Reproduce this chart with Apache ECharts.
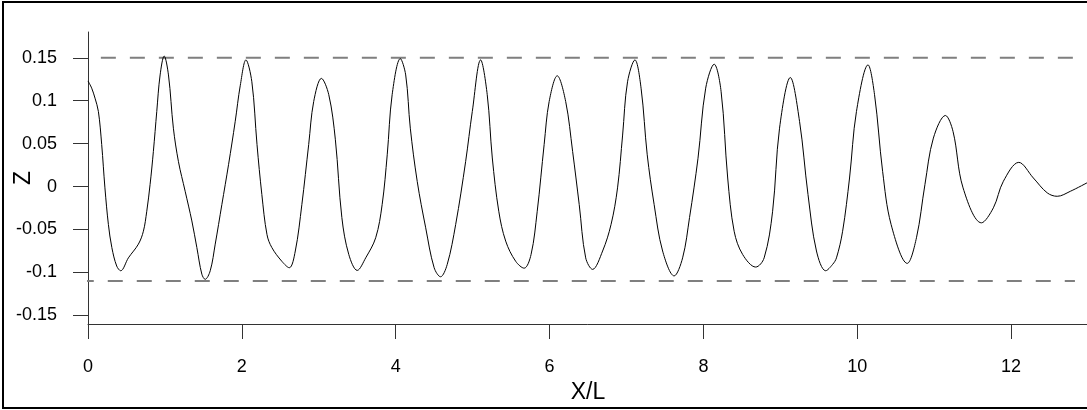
<!DOCTYPE html>
<html>
<head>
    <meta charset="utf-8">
    <title></title>
    <script src="https://cdn.jsdelivr.net/npm/echarts@6.0.0/dist/echarts.min.js"></script>
</head>
<body style="margin:0;background:#fff;">

<div style="position:absolute;left:2px;top:1px;width:1100px;height:404px;border:2px solid #000;"></div>
<div id="main" style="position:absolute;left:0;top:0;width:1087px;height:410px;"></div>

<script type="text/javascript">
    // 曲线读数 (X/L, Z)
    var xs = [0, 0.048, 0.091, 0.135, 0.178, 0.22, 0.265, 0.31, 0.373, 0.425, 0.525, 0.655, 0.72, 0.764, 0.807,
        0.85, 0.894, 0.9375, 0.99, 1.046, 1.11, 1.176, 1.263, 1.35, 1.415, 1.48, 1.523, 1.589, 1.654, 1.74,
        1.827, 1.914, 1.98, 2.053, 2.13, 2.197, 2.26, 2.327, 2.39, 2.52, 2.617, 2.695, 2.78, 2.869, 2.934,
        3.034, 3.13, 3.216, 3.30, 3.39, 3.50, 3.61, 3.74, 3.824, 3.89, 3.954, 4.06, 4.13, 4.19, 4.28, 4.39,
        4.50, 4.583, 4.67, 4.78, 4.909, 4.996, 5.104, 5.19, 5.256, 5.34, 5.43, 5.56, 5.67, 5.76, 5.84, 5.93,
        5.995, 6.10, 6.21, 6.30, 6.386, 6.47, 6.56, 6.69, 6.80, 6.884, 6.95, 7.014, 7.11, 7.19, 7.27, 7.36,
        7.47, 7.62, 7.73, 7.82, 7.93, 8.03, 8.14, 8.23, 8.316, 8.40, 8.51, 8.68, 8.79, 8.90, 8.99, 9.13,
        9.25, 9.36, 9.47, 9.59, 9.68, 9.73, 9.81, 9.9, 9.99, 10.14, 10.225, 10.33, 10.44, 10.65, 10.77,
        10.88, 10.99, 11.146, 11.246, 11.376, 11.615, 11.77, 11.9, 12.1, 12.29, 12.47, 12.6, 12.77, 13.0];
    var zs = [0.123, 0.1146, 0.103, 0.0875, 0.049, -0.0015, -0.044, -0.071, -0.0925, -0.098, -0.083, -0.067, -0.052, -0.0287, 0.0023,
        0.041, 0.0875, 0.130, 0.152, 0.130, 0.068, 0.029, -0.0054, -0.040, -0.071, -0.102, -0.108, -0.098, -0.067, -0.021,
        0.0255, 0.076, 0.118, 0.1475, 0.122, 0.049, -0.0093, -0.056, -0.071, -0.087, -0.0945, -0.075, -0.021, 0.049, 0.099,
        0.126, 0.107, 0.0545, -0.036, -0.079, -0.0976, -0.083, -0.0596, -0.021, 0.037, 0.107, 0.149, 0.130, 0.068, 0.006, -0.048,
        -0.0945, -0.105, -0.0906, -0.044, 0.029, 0.0875, 0.1475, 0.107, 0.0333, -0.0287, -0.0635, -0.087, -0.095, -0.079, -0.0287, 0.049,
        0.099, 0.129, 0.099, 0.041, -0.021, -0.083, -0.0964, -0.075, -0.044, -0.0015, 0.060, 0.122, 0.1475, 0.1146, 0.037, -0.021,
        -0.075, -0.104, -0.083, -0.036, 0.033, 0.1146, 0.1425, 0.111, 0.010, -0.052, -0.079, -0.0937, -0.083, -0.0287, 0.068, 0.127,
        0.076, -0.0093, -0.075, -0.098, -0.0906, -0.083, -0.052, 0.010, 0.0875, 0.1417, 0.107, 0.0178, -0.044, -0.0894, -0.0596,
        0.0023, 0.0565, 0.0828, 0.064, -0.0015, -0.0422, -0.0247, 0.0062, 0.0282, 0.010, -0.0073, -0.0113, -0.0055, 0.005];

    var yTicks = [-0.15, -0.1, -0.05, 0, 0.05, 0.1, 0.15];
    var xTicks = [0, 2, 4, 6, 8, 10, 12];
    var upperLevel = 0.15;   // 上虚线
    var lowerLevel = -0.11;  // 下虚线

    var curve = [];
    for (let i = 0; i < xs.length; i++) {
        curve.push([xs[i], zs[i]]);
    }

    var myChart = echarts.init(document.getElementById('main'));

    var axisColor = '#333';
    var fontName = 'Liberation Sans, Arial, sans-serif';

    myChart.setOption({
        animation: false,
        grid: {
            left: 88,
            right: -1,
            top: 32,
            bottom: 86,
            outerBoundsMode: 'none'
        },
        xAxis: {
            type: 'value',
            min: 0,
            max: 13,
            name: 'X/L',
            nameLocation: 'middle',
            nameGap: 57,
            nameMoveOverlap: false,
            nameTextStyle: { fontSize: 23, color: '#000', fontFamily: fontName },
            axisLine: { onZero: false, lineStyle: { color: axisColor, width: 1 } },
            axisTick: { length: 15, customValues: xTicks, lineStyle: { color: axisColor } },
            axisLabel: { customValues: xTicks, margin: 34, fontSize: 18, color: '#000', fontFamily: fontName },
            splitLine: { show: false }
        },
        yAxis: {
            type: 'value',
            min: -0.16,
            max: 0.18,
            name: 'Z',
            nameLocation: 'middle',
            nameGap: 53,
            nameMoveOverlap: false,
            nameTextStyle: { fontSize: 23, color: '#000', fontFamily: fontName },
            axisLine: { show: true, onZero: false, lineStyle: { color: axisColor, width: 1 } },
            axisTick: { show: true, length: 15, customValues: yTicks, lineStyle: { color: axisColor } },
            axisLabel: { customValues: yTicks, margin: 31, fontSize: 18, color: '#000', fontFamily: fontName },
            splitLine: { show: false }
        },
        series: [
            {
                type: 'line',
                data: [[-0.21, upperLevel], [12.83, upperLevel]],
                clip: false,
                symbol: 'none',
                silent: true,
                lineStyle: { color: '#7f7f7f', width: 2, type: [15, 14] }
            },
            {
                type: 'line',
                data: [[-0.12, lowerLevel], [12.83, lowerLevel]],
                clip: false,
                symbol: 'none',
                silent: true,
                lineStyle: { color: '#7f7f7f', width: 2, type: [15, 14] }
            },
            {
                type: 'line',
                data: curve,
                smooth: 0.35,
                symbol: 'none',
                lineStyle: { color: '#000', width: 1 }
            }
        ]
    });
</script>
</body>
</html>
